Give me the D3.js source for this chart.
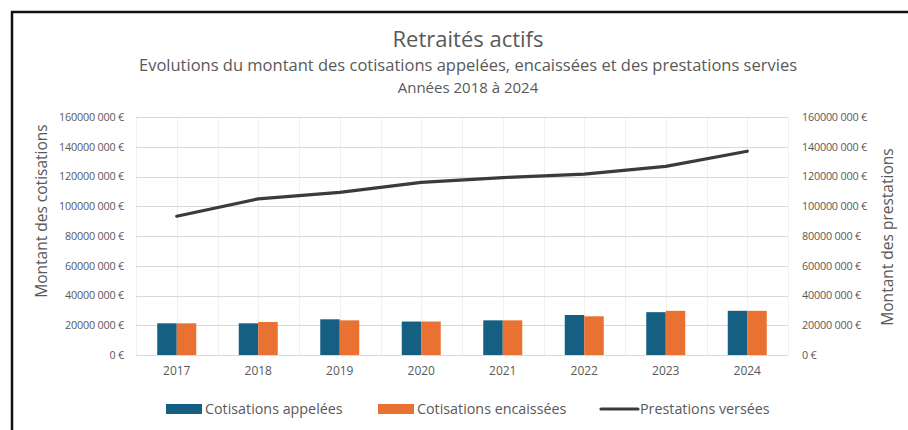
<!DOCTYPE html>
<html lang="fr">
<head>
<meta charset="utf-8">
<title>Retraités actifs</title>
<script src="https://cdn.jsdelivr.net/npm/d3@7"></script>
<style>
  body { margin: 0; background: #fff; }
  text { font-family: "Open Sans", "Liberation Sans", Arial, sans-serif; fill: #595959; }
</style>
</head>
<body>
<script>
var w = 908, h = 430;

var years = ["2017", "2018", "2019", "2020", "2021", "2022", "2023", "2024"];
var appelees = [21300000, 21300000, 24000000, 22500000, 23300000, 26900000, 28800000, 29700000];
var encaissees = [21300000, 22200000, 23300000, 22500000, 23300000, 26000000, 29700000, 29700000];
var prestations = [93300000, 105000000, 109300000, 116000000, 119300000, 121600000, 126800000, 137000000];
var yTicks = [0, 20000000, 40000000, 60000000, 80000000, 100000000, 120000000, 140000000, 160000000];
var yTickLabels = ["0 €", "20000 000 €", "40000 000 €", "60000 000 €", "80000 000 €",
                   "100000 000 €", "120000 000 €", "140000 000 €", "160000 000 €"];
var seriesNames = ["Cotisations appelées", "Cotisations encaissées", "Prestations versées"];
var colors = ["#156082", "#e97132", "#3b3b3b"];

var plotLeft = 136, plotRight = 788, plotTop = 117, plotBottom = 355;

var svg = d3.select("body").append("svg")
  .attr("width", w).attr("height", h);

// cadre
svg.append("path")
  .attr("d", "M12,430 V12 H908")
  .attr("fill", "none").attr("stroke", "#111").attr("stroke-width", 2.5);

var x = d3.scaleBand().domain(years).range([plotLeft, plotRight]);
var xSub = d3.scaleBand().domain([0, 1]).range([0, 39]);
var y = d3.scaleLinear().domain([0, 160000000]).range([plotBottom, plotTop]);
var y2 = d3.scaleLinear().domain([0, 160000000]).range([plotBottom, plotTop]);

// grille verticale (centres et limites)
var vLines = [];
years.forEach(function(d) { vLines.push(x(d)); vLines.push(x(d) + x.bandwidth() / 2); });
vLines.push(plotRight);
svg.append("g").selectAll("line").data(vLines).enter().append("line")
  .attr("x1", function(d) { return Math.round(d) + 0.5; }).attr("x2", function(d) { return Math.round(d) + 0.5; })
  .attr("y1", plotTop).attr("y2", plotBottom)
  .attr("stroke", "#f0f0f0").attr("stroke-width", 1);

// grille horizontale
svg.append("g").selectAll("line").data(yTicks).enter().append("line")
  .attr("x1", plotLeft).attr("x2", plotRight)
  .attr("y1", function(d) { return Math.round(y(d)) + 0.5; })
  .attr("y2", function(d) { return Math.round(y(d)) + 0.5; })
  .attr("stroke", "#d9d9d9").attr("stroke-width", 1);

// axes
var yAxisL = d3.axisLeft(y).tickValues(yTicks).tickSize(0).tickPadding(12)
  .tickFormat(function(d, i) { return yTickLabels[i]; });
var gL = svg.append("g").attr("transform", "translate(" + plotLeft + ",0)").call(yAxisL);
var yAxisR = d3.axisRight(y2).tickValues(yTicks).tickSize(0).tickPadding(14)
  .tickFormat(function(d, i) { return yTickLabels[i]; });
var gR = svg.append("g").attr("transform", "translate(" + plotRight + ",0)").call(yAxisR);
var xAxis = d3.axisBottom(x).tickSize(0).tickPadding(11);
var gX = svg.append("g").attr("transform", "translate(0," + plotBottom + ")").call(xAxis);
[gL, gR, gX].forEach(function(g) {
  g.select(".domain").remove();
  g.selectAll("text").style("font-family", "'Open Sans', 'Liberation Sans', Arial, sans-serif").attr("fill", "#595959");
});
gL.selectAll("text").attr("font-size", "10.8px").attr("letter-spacing", "-0.2px");
gR.selectAll("text").attr("font-size", "10.8px").attr("letter-spacing", "-0.2px");
gX.selectAll("text").attr("font-size", "12px");

// barres
var groups = svg.append("g").selectAll("g").data(years).enter().append("g")
  .attr("transform", function(d) { return "translate(" + (x(d) + x.bandwidth() / 2 - 19.5) + ",0)"; });
groups.append("rect")
  .attr("x", xSub(0)).attr("width", xSub.bandwidth())
  .attr("y", function(d, i) { return y(appelees[i]); })
  .attr("height", function(d, i) { return plotBottom - y(appelees[i]); })
  .attr("fill", colors[0]);
groups.append("rect")
  .attr("x", xSub(1)).attr("width", xSub.bandwidth())
  .attr("y", function(d, i) { return y(encaissees[i]); })
  .attr("height", function(d, i) { return plotBottom - y(encaissees[i]); })
  .attr("fill", colors[1]);

// ligne
var line = d3.line()
  .x(function(d, i) { return x(years[i]) + x.bandwidth() / 2; })
  .y(function(d) { return y2(d); });
svg.append("path").datum(prestations)
  .attr("d", line)
  .attr("fill", "none").attr("stroke", colors[2])
  .attr("stroke-width", 3.2).attr("stroke-linecap", "round").attr("stroke-linejoin", "round");

// titres
svg.append("text").attr("x", 468).attr("y", 47).attr("text-anchor", "middle")
  .attr("font-size", "22px").text("Retraités actifs");
svg.append("text").attr("x", 468).attr("y", 71).attr("text-anchor", "middle")
  .attr("font-size", "16.5px").text("Evolutions du montant des cotisations appelées, encaissées et des prestations servies");
svg.append("text").attr("x", 468).attr("y", 93).attr("text-anchor", "middle")
  .attr("font-size", "15px").text("Années 2018 à 2024");

svg.append("text").attr("transform", "translate(47,211) rotate(-90)")
  .attr("text-anchor", "middle").attr("font-size", "15.5px").text("Montant des cotisations");
svg.append("text").attr("transform", "translate(893,237) rotate(-90)")
  .attr("text-anchor", "middle").attr("font-size", "15.5px").text("Montant des prestations");

// légende
var legX = [166, 378, 600];
var leg = svg.append("g").selectAll("g").data(seriesNames).enter().append("g")
  .attr("transform", function(d, i) { return "translate(" + legX[i] + ",409)"; });
leg.each(function(d, i) {
  var g = d3.select(this);
  if (i < 2) {
    g.append("rect").attr("x", 0).attr("y", -5).attr("width", 36).attr("height", 10).attr("fill", colors[i]);
  } else {
    g.append("line").attr("x1", 1).attr("x2", 38).attr("y1", 0).attr("y2", 0)
      .attr("stroke", colors[2]).attr("stroke-width", 3.2).attr("stroke-linecap", "round");
  }
  g.append("text").attr("x", i < 2 ? 39 : 40).attr("y", 5).attr("font-size", "14.3px").text(d);
});
</script>
</body>
</html>
